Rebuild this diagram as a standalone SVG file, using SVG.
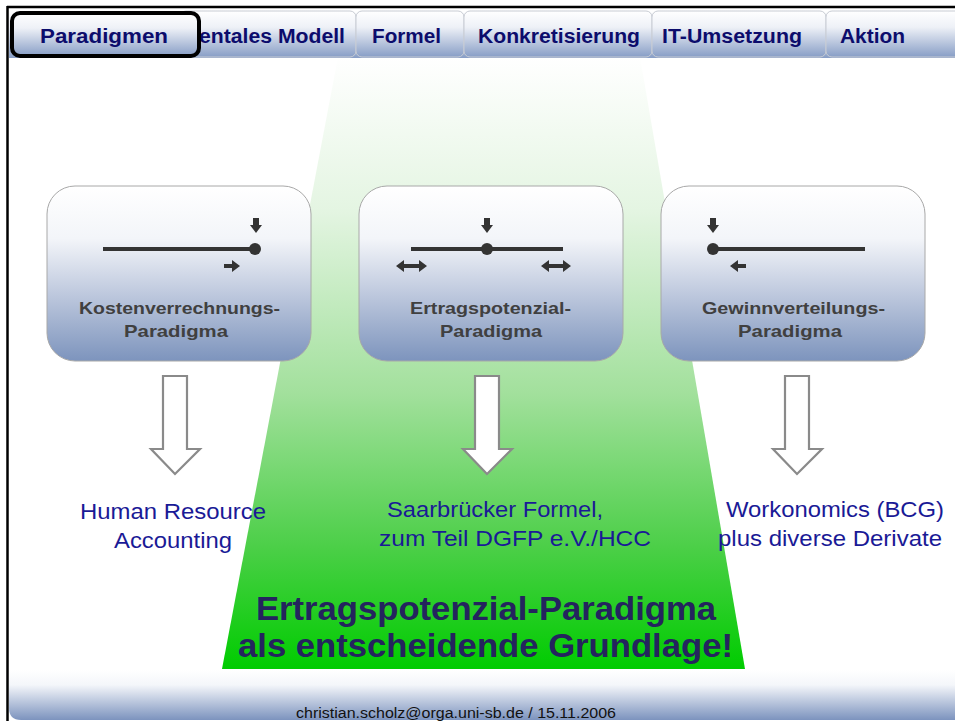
<svg xmlns="http://www.w3.org/2000/svg" width="955" height="723" viewBox="0 0 955 723">
<defs>
<linearGradient id="tabg" x1="0" y1="0" x2="0" y2="1">
<stop offset="0" stop-color="#ffffff"/><stop offset="0.35" stop-color="#eef1f7"/><stop offset="1" stop-color="#889ec6"/>
</linearGradient>
<linearGradient id="boxg" x1="0" y1="0" x2="0" y2="1">
<stop offset="0" stop-color="#ffffff"/><stop offset="0.3" stop-color="#f3f5f9"/><stop offset="0.6" stop-color="#c1cbdf"/><stop offset="1" stop-color="#7d94bd"/>
</linearGradient>
<linearGradient id="footg" x1="0" y1="0" x2="0" y2="1">
<stop offset="0" stop-color="#ffffff"/><stop offset="0.3" stop-color="#f4f6fa"/><stop offset="1" stop-color="#7c93be"/>
</linearGradient>
<linearGradient id="greeng" x1="0" y1="0" x2="0" y2="1">
<stop offset="0" stop-color="#ffffff"/><stop offset="0.25" stop-color="#e4f5e2"/><stop offset="0.55" stop-color="#a2e09c"/><stop offset="0.8" stop-color="#4ccf48"/><stop offset="1" stop-color="#00cc00"/>
</linearGradient>
</defs>
<style>
.tab{fill:url(#tabg);stroke:#c8ccd4;stroke-width:1}
.tabt{font-family:"Liberation Sans",Arial,sans-serif;font-weight:bold;font-size:20px;fill:#0c0c6c}
.box{fill:url(#boxg);stroke:#a8a8a8;stroke-width:1}
.boxt{font-family:"Liberation Sans",Arial,sans-serif;font-weight:bold;font-size:16.5px;fill:#404040;text-anchor:middle}
.ln{stroke:#333;stroke-width:4;fill:none}
.dot{fill:#333}
.ar{fill:#333}
.hollow{fill:#fff;stroke:#8a8a8a;stroke-width:2.2}
.lbl{font-family:"Liberation Sans",Arial,sans-serif;font-size:22px;fill:#1a1a96}
.big{font-family:"Liberation Sans",Arial,sans-serif;font-weight:bold;font-size:33px;fill:#24245e}
.foot{font-family:"Liberation Sans",Arial,sans-serif;font-size:14px;fill:#111}
</style>
<rect x="0" y="0" width="955" height="723" fill="#fff"/>
<!-- green spotlight -->
<polygon points="338,57 640,57 745,669 222,669" fill="url(#greeng)"/>
<!-- footer -->
<path d="M9,670 H955 V720 H21 Q9,720 9,708 Z" fill="url(#footg)"/>
<text class="foot" x="296" y="718" textLength="320" lengthAdjust="spacingAndGlyphs">christian.scholz@orga.uni-sb.de / 15.11.2006</text>
<!-- frame -->
<line x1="7" y1="7" x2="955" y2="7" stroke="#000" stroke-width="2.5"/>
<line x1="7.5" y1="6" x2="7.5" y2="721" stroke="#000" stroke-width="2.5"/>
<!-- tab bar -->
<g id="tabs">
<rect x="9" y="10" width="946" height="48" fill="url(#tabg)"/>
<rect class="tab" x="180" y="11" width="176" height="46" rx="6"/>
<text class="tabt" x="199" y="43" textLength="146" lengthAdjust="spacingAndGlyphs">entales Modell</text>
<rect class="tab" x="356" y="11" width="108" height="46" rx="6"/>
<text class="tabt" x="372" y="43" textLength="69" lengthAdjust="spacingAndGlyphs">Formel</text>
<rect class="tab" x="464" y="11" width="188" height="46" rx="6"/>
<text class="tabt" x="478" y="43" textLength="162" lengthAdjust="spacingAndGlyphs">Konkretisierung</text>
<rect class="tab" x="652" y="11" width="174" height="46" rx="6"/>
<text class="tabt" x="662" y="43" textLength="140" lengthAdjust="spacingAndGlyphs">IT-Umsetzung</text>
<rect class="tab" x="826" y="11" width="140" height="46" rx="6"/>
<text class="tabt" x="840" y="43" textLength="65" lengthAdjust="spacingAndGlyphs">Aktion</text>
<rect x="12" y="13" width="187" height="43" rx="8" fill="url(#tabg)" stroke="#000" stroke-width="4"/>
<text class="tabt" x="40" y="43" textLength="128" lengthAdjust="spacingAndGlyphs">Paradigmen</text>
</g>
<!-- node 1 -->
<g id="node-kosten">
<rect class="box" x="47" y="186" width="264" height="175" rx="28"/>
<line class="ln" x1="103" y1="249" x2="255" y2="249"/>
<circle class="dot" cx="255" cy="249" r="6"/>
<polygon class="ar" points="253,218 259,218 259,225 262,225 256,233 250,225 253,225"/>
<polygon class="ar" points="224,264 232,264 232,260 240,266 232,272 232,268 224,268"/>
<text class="boxt" x="179.5" y="314" textLength="201" lengthAdjust="spacingAndGlyphs">Kostenverrechnungs-</text>
<text class="boxt" x="176" y="337" textLength="104" lengthAdjust="spacingAndGlyphs">Paradigma</text>
</g>
<!-- node 2 -->
<g id="node-ertrag">
<rect class="box" x="359" y="186" width="264" height="175" rx="28"/>
<line class="ln" x1="411" y1="249" x2="563" y2="249"/>
<circle class="dot" cx="487" cy="249" r="6"/>
<polygon class="ar" points="484,218 490,218 490,225 493,225 487,233 481,225 484,225"/>
<polygon class="ar" points="396,266 404,260 404,264 419,264 419,260 427,266 419,272 419,268 404,268 404,272"/>
<polygon class="ar" points="541,266 549,260 549,264 563,264 563,260 571,266 563,272 563,268 549,268 549,272"/>
<text class="boxt" x="490.5" y="314" textLength="161" lengthAdjust="spacingAndGlyphs">Ertragspotenzial-</text>
<text class="boxt" x="491" y="337" textLength="102" lengthAdjust="spacingAndGlyphs">Paradigma</text>
</g>
<!-- node 3 -->
<g id="node-gewinn">
<rect class="box" x="661" y="186" width="264" height="175" rx="28"/>
<line class="ln" x1="713" y1="249" x2="865" y2="249"/>
<circle class="dot" cx="713" cy="249" r="6"/>
<polygon class="ar" points="710,218 716,218 716,225 719,225 713,233 707,225 710,225"/>
<polygon class="ar" points="746,264 738,264 738,260 730,266 738,272 738,268 746,268"/>
<text class="boxt" x="793.5" y="314" textLength="183" lengthAdjust="spacingAndGlyphs">Gewinnverteilungs-</text>
<text class="boxt" x="790" y="337" textLength="104" lengthAdjust="spacingAndGlyphs">Paradigma</text>
</g>
<!-- connectors -->
<g id="connectors">
<polygon class="hollow" points="163,376 187,376 187,449 200,449 175,474 151,449 163,449"/>
<polygon class="hollow" points="475,376 499,376 499,449 512,449 487,474 463,449 475,449"/>
<polygon class="hollow" points="785,376 809,376 809,449 822,449 797,474 773,449 785,449"/>
</g>
<!-- result labels -->
<g id="label-hra">
<text class="lbl" x="80" y="519" textLength="186" lengthAdjust="spacingAndGlyphs">Human Resource</text>
<text class="lbl" x="114" y="548" textLength="118" lengthAdjust="spacingAndGlyphs">Accounting</text>
</g>
<g id="label-saar">
<text class="lbl" x="387" y="517" textLength="216" lengthAdjust="spacingAndGlyphs">Saarbrücker Formel,</text>
<text class="lbl" x="379" y="546" textLength="272" lengthAdjust="spacingAndGlyphs">zum Teil DGFP e.V./HCC</text>
</g>
<g id="label-work">
<text class="lbl" x="726" y="517" textLength="218" lengthAdjust="spacingAndGlyphs">Workonomics (BCG)</text>
<text class="lbl" x="718" y="546" textLength="224" lengthAdjust="spacingAndGlyphs">plus diverse Derivate</text>
</g>
<g id="headline">
<text class="big" x="256" y="620" textLength="460" lengthAdjust="spacingAndGlyphs">Ertragspotenzial-Paradigma</text>
<text class="big" x="238" y="657" textLength="495" lengthAdjust="spacingAndGlyphs">als entscheidende Grundlage!</text>
</g>
</svg>
